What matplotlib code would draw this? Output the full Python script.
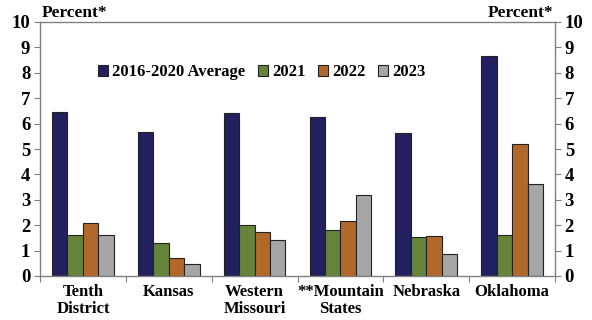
import numpy as np
import matplotlib
matplotlib.use('Agg')
import matplotlib.pyplot as plt

regions = ['Tenth\nDistrict', 'Kansas', 'Western\nMissouri', '**Mountain\nStates', 'Nebraska', 'Oklahoma']
series = ['2016-2020 Average', '2021', '2022', '2023']
avg_16_20 = [6.45, 5.68, 6.40, 6.27, 5.63, 8.65]
y2021 = [1.60, 1.30, 2.00, 1.83, 1.55, 1.63]
y2022 = [2.07, 0.72, 1.75, 2.18, 1.57, 5.20]
y2023 = [1.60, 0.48, 1.42, 3.18, 0.87, 3.62]
colors = ['#22205E', '#65843A', '#B2682A', '#A6A6A6']

plt.rcParams['font.family'] = 'Liberation Serif'
plt.rcParams['font.weight'] = 'bold'

fig = plt.figure(figsize=(5.92, 3.2), dpi=100)
ax = fig.add_axes([40/592, 1 - 276/320, 515/592, 254/320])

x = np.arange(len(regions))
w = 0.18
for i, (vals, c, lab) in enumerate(zip([avg_16_20, y2021, y2022, y2023], colors, series)):
    ax.bar(x + (i - 1.5) * w, vals, w, color=c, edgecolor='#222222', linewidth=0.8, label=lab)

ax.set_xlim(-0.5, len(regions) - 0.5)
ax.set_ylim(0, 10)
ax.set_yticks(range(0, 11))
ax.set_xticks(np.arange(-0.5, len(regions), 1.0))
ax.set_xticklabels([])
ax.set_xticks(x, minor=True)
ax.set_xticklabels(regions, minor=True, fontsize=12, fontweight='bold', linespacing=1.05)
ax.tick_params(axis='x', which='minor', length=0, pad=6)
ax.tick_params(axis='x', which='major', length=4, color='#808080', direction='out')
ax.tick_params(axis='y', which='both', labelsize=13.5, length=4, color='#808080',
               left=True, right=True, labelleft=True, labelright=True, pad=3)
for lbl in ax.get_yticklabels():
    lbl.set_fontweight('bold')
for s in ax.spines.values():
    s.set_color('#808080')
    s.set_linewidth(1.0)

ax.text(0.003, 1.003, 'Percent*', transform=ax.transAxes, ha='left', va='bottom',
        fontsize=12.5, fontweight='bold')
ax.text(0.997, 1.003, 'Percent*', transform=ax.transAxes, ha='right', va='bottom',
        fontsize=12.5, fontweight='bold')

ax.legend(loc='upper left', bbox_to_anchor=(0.1, 0.86), ncol=4, frameon=False,
          prop={'family': 'Liberation Serif', 'weight': 'bold', 'size': 12},
          handlelength=0.6, handleheight=0.6, handletextpad=0.25, columnspacing=0.75,
          borderaxespad=0)

fig.savefig('out.png', dpi=100)
